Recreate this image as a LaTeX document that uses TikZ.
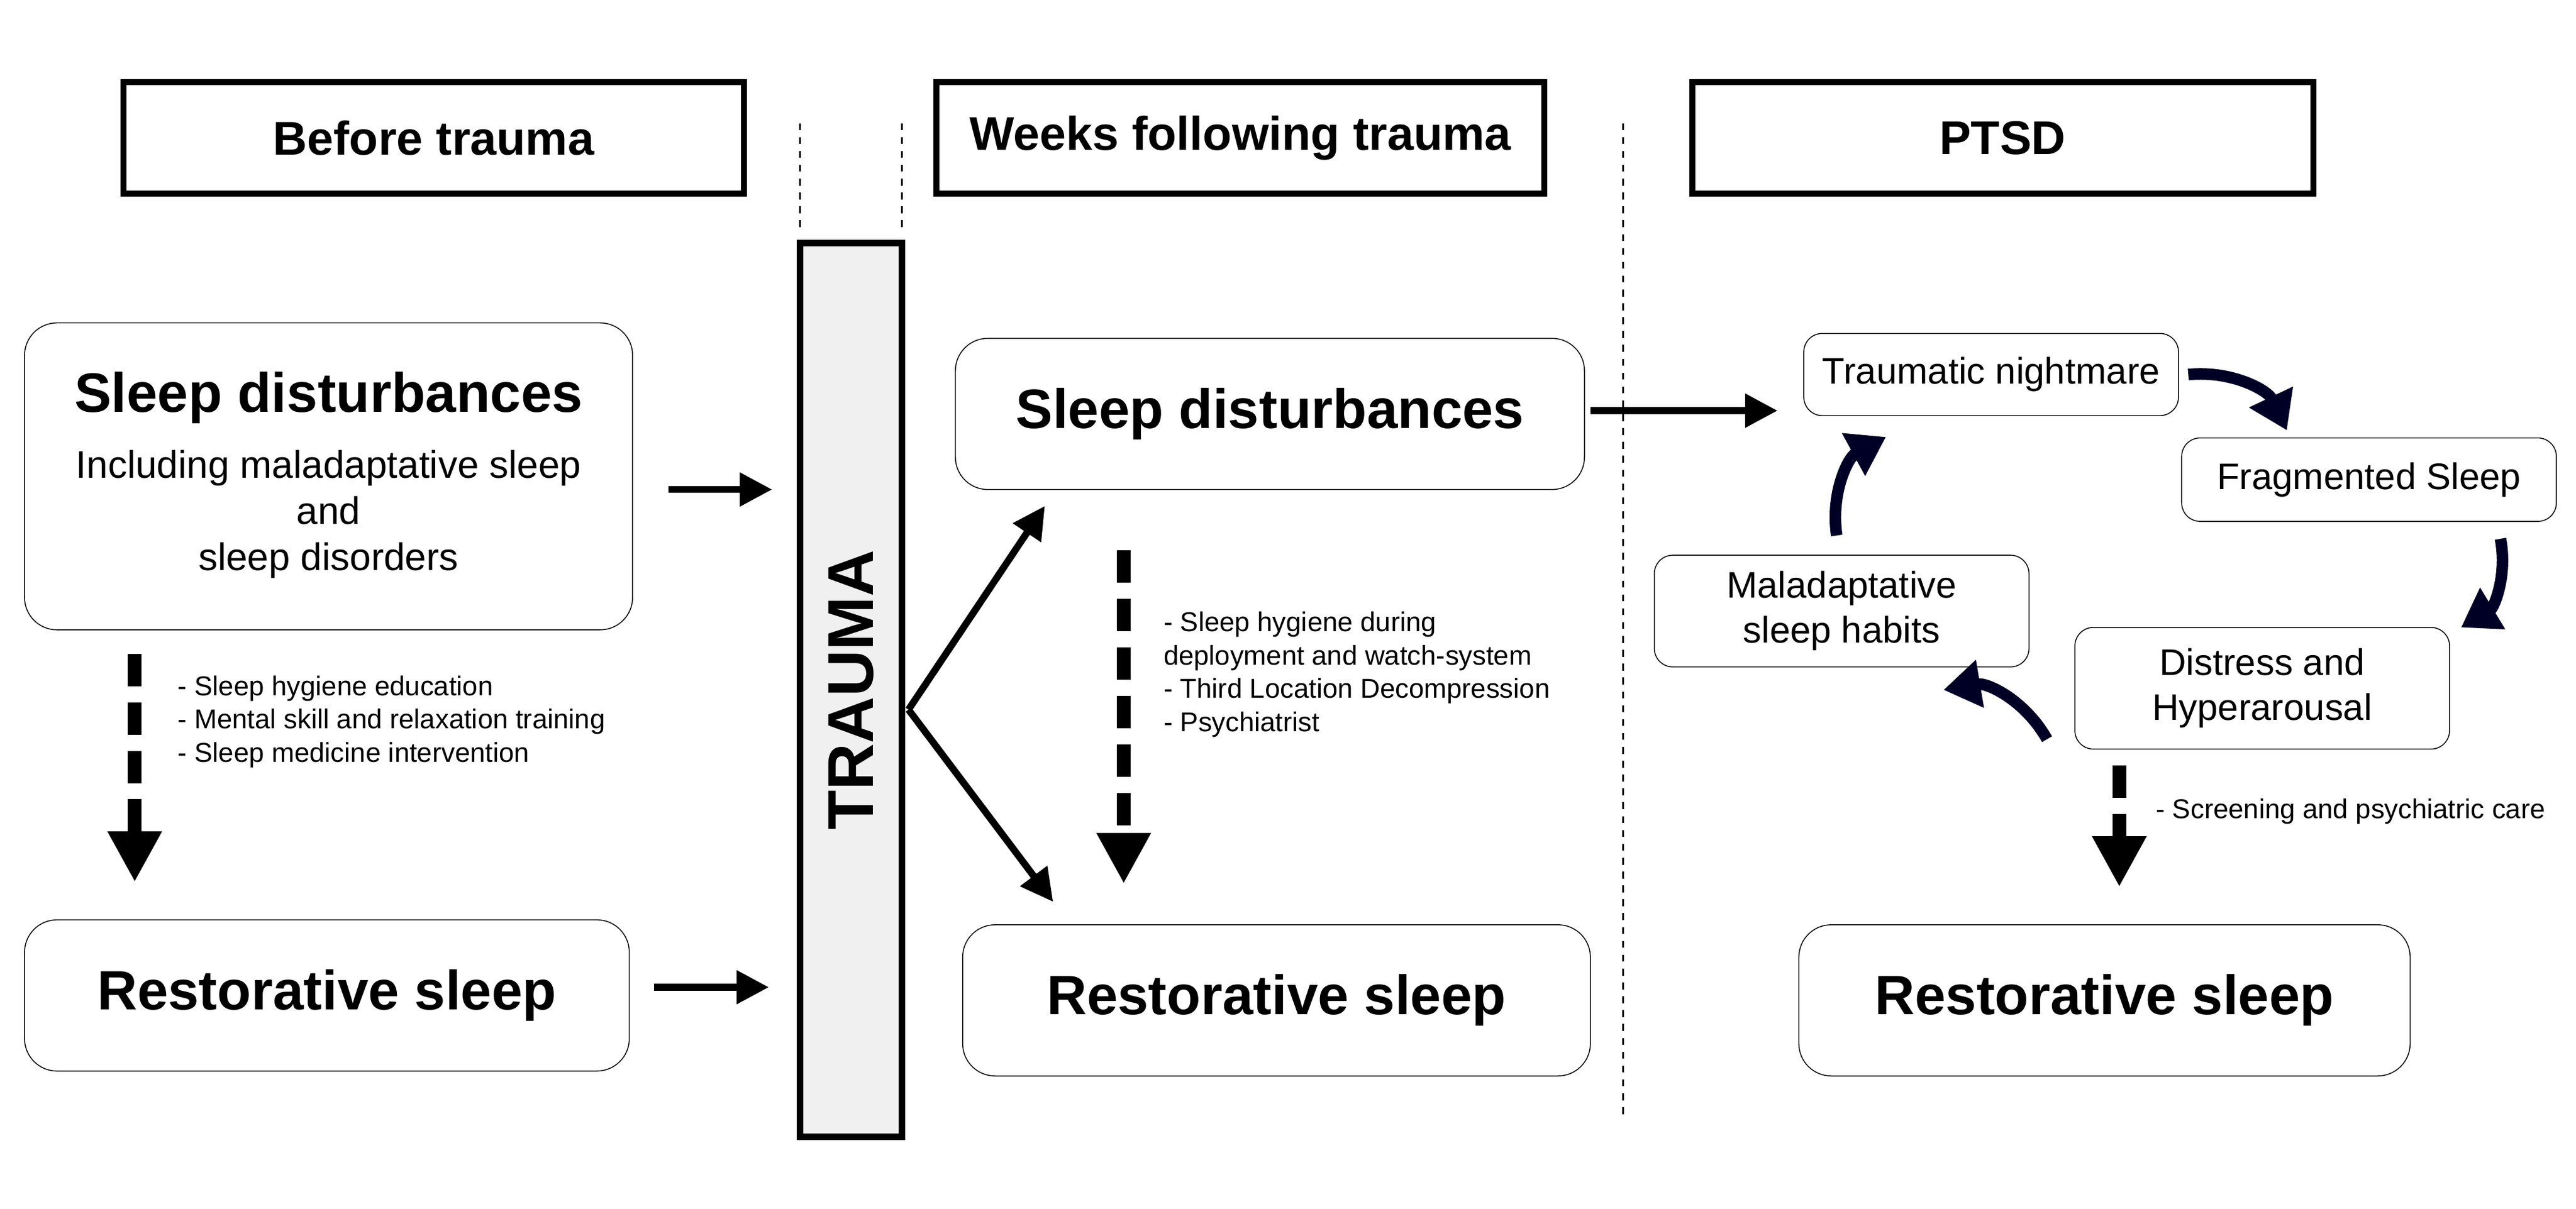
\documentclass[tikz,border=0pt]{standalone}
\usepackage{fontspec}
\setmainfont{Liberation Sans}
\usetikzlibrary{arrows.meta}
\begin{document}
\begin{tikzpicture}
        [x=0.025cm,y=-0.025cm,
        headdecorate/.style={draw,line width=2.6pt,font=\fontsize{20.5}{24}\selectfont\bfseries},%
        boxdecorate/.style={draw,rounded corners=14pt,thin,align=center},%
        bigdecorate/.style={font=\fontsize{24}{28}\selectfont\bfseries},%
        cycledecorate/.style={draw,rounded corners=8pt,thin,align=center,font=\fontsize{16}{19.5}\selectfont},%
        arrowdecorate/.style={-{Triangle[length=14pt,width=14pt]},line width=3pt},%
        dasharrowdecorate/.style={-{Triangle[length=22pt,width=22pt]},line width=6pt,dash pattern=on 14pt off 7pt},%
        curvedecorate/.style={-{Triangle[length=16pt,width=20pt]},line width=5pt,color=black!85!blue},%
        sepdecorate/.style={dashed,black,line width=0.8pt},%
        listdecorate/.style={align=left,anchor=north west,font=\fontsize{11.8}{14.5}\selectfont,inner sep=0pt}]
        \useasboundingbox (0,0) rectangle (1568,736);
        %% headers
        \foreach \nodename/\xa/\xb/\text in {hbefore/75/453/Before trauma,
          hweeks/570/940/Weeks following trauma, hptsd/1030/1408/PTSD}
        {
          \node (\nodename) [headdecorate,minimum width={(\xb-\xa)*0.025cm},minimum height=1.7cm] at ({(\xa+\xb)/2},84) {\text};
        }
        %% separators
        \draw[sepdecorate] (487,75) -- (487,140);
        \draw[sepdecorate] (549,75) -- (549,140);
        \draw[sepdecorate] (988,75) -- (988,680);
        %% trauma bar
        \node (trauma) [draw,line width=3pt,fill=black!6,minimum width=1.55cm,minimum height=13.6cm] at (518,420) {};
        \node [rotate=90,font=\fontsize{28}{32}\selectfont\bfseries] at (trauma) {TRAUMA};
        %% before trauma
        \node (sdA) [boxdecorate,minimum width=9.25cm,minimum height=4.67cm] at (200,290) {};
        \node [bigdecorate] at (200,242) {Sleep disturbances};
        \node [align=center,font=\fontsize{16.6}{20}\selectfont] at (200,313) {Including maladaptative sleep\\and\\sleep disorders};
        \node (rsA) [boxdecorate,bigdecorate,minimum width=9.2cm,minimum height=2.3cm] at (199,606) {Restorative sleep};
        \coordinate (a1) at (407,298); \coordinate (a2) at (470,298);
        \coordinate (a3) at (398,601); \coordinate (a4) at (468,601);
        \draw[arrowdecorate] (a1) -- (a2);
        \draw[arrowdecorate] (a3) -- (a4);
        \coordinate (d1) at (82,398); \coordinate (d2) at (82,537);
        \draw[dasharrowdecorate] (d1) -- (d2);
        \node [listdecorate] at (108,411) {- Sleep hygiene education\\- Mental skill and relaxation training\\- Sleep medicine intervention};
        %% weeks following trauma
        \node (sdB) [boxdecorate,bigdecorate,minimum width=9.57cm,minimum height=2.3cm] at (773,252) {Sleep disturbances};
        \node (rsB) [boxdecorate,bigdecorate,minimum width=9.55cm,minimum height=2.3cm] at (777,609) {Restorative sleep};
        \coordinate (split) at (553,432);
        \coordinate (b1) at (636,308); \coordinate (b2) at (641,549);
        \draw[arrowdecorate] (split) -- (b1);
        \draw[arrowdecorate] (split) -- (b2);
        \coordinate (d3) at (684,335); \coordinate (d4) at (684,538);
        \draw[dasharrowdecorate] (d3) -- (d4);
        \node [listdecorate] at (708,372) {- Sleep hygiene during\\deployment and watch-system\\- Third Location Decompression\\- Psychiatrist};
        \coordinate (c1) at (968,250); \coordinate (c2) at (1082,250);
        \draw[arrowdecorate] (c1) -- (c2);
        %% PTSD cycle
        \node (tn) [cycledecorate,minimum width=5.7cm,minimum height=1.25cm] at (1212,228) {Traumatic nightmare};
        \node (fs) [cycledecorate,minimum width=5.7cm,minimum height=1.27cm] at (1442,292) {Fragmented Sleep};
        \node (dh) [cycledecorate,minimum width=5.7cm,minimum height=1.85cm] at (1377,419) {Distress and\\Hyperarousal};
        \node (ms) [cycledecorate,minimum width=5.7cm,minimum height=1.7cm] at (1121,372) {Maladaptative\\sleep habits};
        \draw[curvedecorate] (1332,228) to[bend left=35] (1392,262);
        \draw[curvedecorate] (1522,328) to[bend left=35] (1498,382);
        \draw[curvedecorate] (1246,450) to[bend right=35] (1183,420);
        \draw[curvedecorate] (1118,326) to[bend left=35] (1148,266);
        \coordinate (d5) at (1290,466); \coordinate (d6) at (1290,540);
        \draw[dasharrowdecorate] (d5) -- (d6);
        \node [listdecorate] at (1312,486) {- Screening and psychiatric care};
        \node (rsC) [boxdecorate,bigdecorate,minimum width=9.3cm,minimum height=2.3cm] at (1281,609) {Restorative sleep};
\end{tikzpicture}
\end{document}
